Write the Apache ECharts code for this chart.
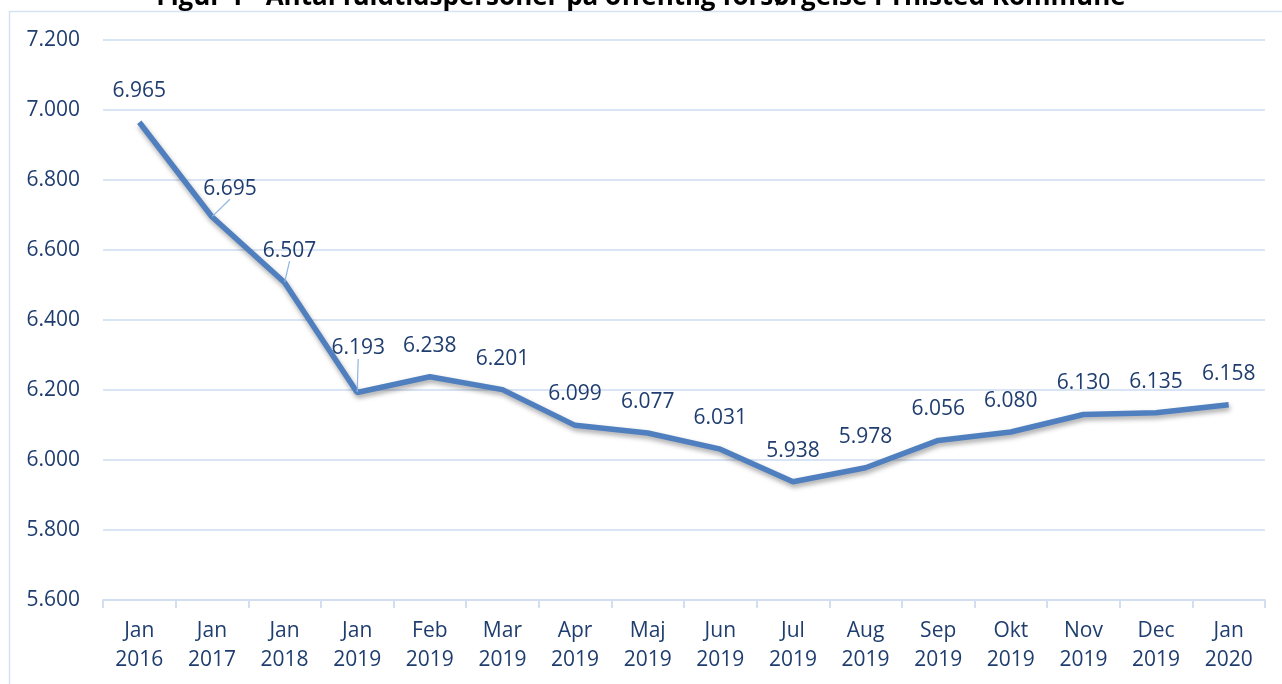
<!DOCTYPE html>
<html>
<head>
<meta charset="utf-8">
<script src="https://cdn.jsdelivr.net/npm/echarts@6/dist/echarts.min.js"></script>
<style>
html,body{margin:0;padding:0;background:#fff;}
#c{width:1282px;height:684px;}
</style>
</head>
<body>
<div id="c"></div>
<script>
var titleText = 'Figur 1 - Antal fuldtidspersoner på offentlig forsørgelse i Thisted Kommune';
var categories = ['Jan\n2016','Jan\n2017','Jan\n2018','Jan\n2019','Feb\n2019','Mar\n2019','Apr\n2019','Maj\n2019','Jun\n2019','Jul\n2019','Aug\n2019','Sep\n2019','Okt\n2019','Nov\n2019','Dec\n2019','Jan\n2020'];
var values = [6965, 6695, 6507, 6193, 6238, 6201, 6099, 6077, 6031, 5938, 5978, 6056, 6080, 6130, 6135, 6158];
var yMin = 5600, yMax = 7200, yStep = 200;

function fmt(v){
  var s = String(Math.round(v));
  return s.replace(/\B(?=(\d{3})+(?!\d))/g, '.');
}

var chart = echarts.init(document.getElementById('c'));
var FONT = 'Open Sans';
var TXT = '#1F3D6E';
var labelShift = {1:[18,3], 2:[5,-1], 3:[1,-13]};

var seriesData = values.map(function(v, i){
  if (labelShift[i]) { return {value:v, labelLine:{show:true}}; }
  return v;
});

chart.setOption({
  animation:false,
  title:{
    text:titleText, left:'center', top:-20,
    textStyle:{fontFamily:FONT, fontWeight:'bold', fontSize:26, color:'#000'}
  },
  graphic:[{
    type:'rect', shape:{x:9.5, y:11.5, width:1400, height:800},
    style:{fill:'none', stroke:'#D6E2F2', lineWidth:1.5}, z:-1
  }],
  grid:{left:103, right:17, top:40, bottom:84},
  xAxis:{
    type:'category', data:categories, boundaryGap:true,
    axisLine:{lineStyle:{color:'#D3DFF0', width:2}},
    axisTick:{show:true, length:8, lineStyle:{color:'#D3DFF0', width:2}},
    axisLabel:{fontFamily:FONT, fontSize:21, color:TXT, lineHeight:29, margin:17, interval:0}
  },
  yAxis:{
    type:'value', min:yMin, max:yMax, interval:yStep,
    axisLine:{show:false}, axisTick:{show:false},
    splitLine:{lineStyle:{color:'#D9E4F4', width:2}},
    axisLabel:{fontFamily:FONT, fontSize:21, color:TXT, margin:23, formatter:fmt}
  },
  series:[{
    type:'line', data:seriesData, symbol:'circle', symbolSize:1, showSymbol:true,
    itemStyle:{color:'rgba(0,0,0,0)'},
    lineStyle:{color:'#4F7FBF', width:5.5, shadowColor:'rgba(0,0,0,0.35)', shadowBlur:5, shadowOffsetX:1, shadowOffsetY:3},
    label:{show:true, position:'top', distance:20, fontFamily:FONT, fontSize:21, color:TXT, formatter:function(p){return fmt(p.value);}},
    labelLine:{show:false, lineStyle:{color:'#8EB4E3', width:1.2}},
    labelLayout:function(p){
      var s = labelShift[p.dataIndex];
      if(s){ return {dx:s[0], dy:s[1]}; }
      return {};
    }
  }]
});
</script>
</body>
</html>
